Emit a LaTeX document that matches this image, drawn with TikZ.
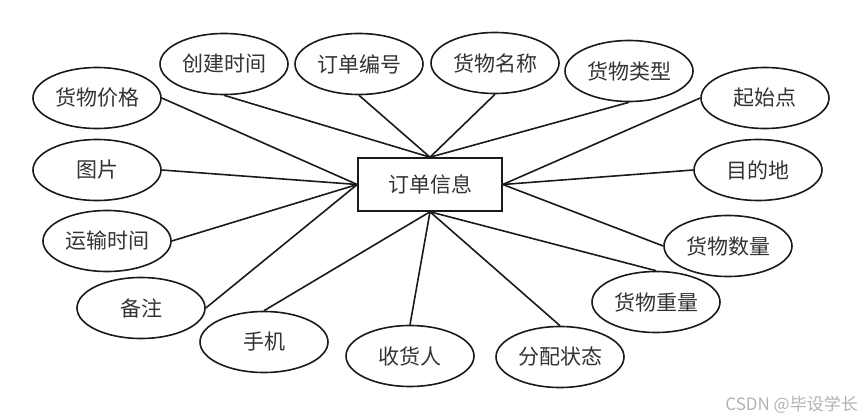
\documentclass[tikz,border=0pt]{standalone}
\usepackage{fontspec}
\setmainfont{Noto Sans CJK SC}
\usetikzlibrary{shapes.geometric}
\definecolor{txt}{HTML}{333333}
\definecolor{ln}{HTML}{1A1A1A}
\tikzset{
  attr/.style={ellipse, draw=ln, line width=1.6pt, minimum width=128pt, minimum height=61pt, inner sep=0pt, font=\fontsize{21}{21}\selectfont, text=txt},
  ent/.style={rectangle, draw=ln, line width=1.6pt, minimum width=144pt, minimum height=53pt, inner sep=0pt, font=\fontsize{21}{21}\selectfont, text=txt},
  link/.style={draw=ln, line width=1.6pt}
}
\begin{document}
\begin{tikzpicture}[x=1pt,y=-1pt]
\useasboundingbox (0,0) rectangle (862,420);
\node[ent] (r) at (430,184.5) {订单信息};
\node[attr] (a1) at (224,64) {创建时间};
\node[attr] (a2) at (359,64) {订单编号};
\node[attr] (a3) at (495,63) {货物名称};
\node[attr] (a4) at (629,71) {货物类型};
\node[attr] (a5) at (765,98) {起始点};
\node[attr] (a6) at (758,170) {目的地};
\node[attr] (a7) at (728,246) {货物数量};
\node[attr] (a8) at (656,302) {货物重量};
\node[attr] (a9) at (560,357) {分配状态};
\node[attr] (a10) at (410,356) {收货人};
\node[attr] (a11) at (264,342) {手机};
\node[attr] (a12) at (141,308) {备注};
\node[attr] (a13) at (107,241) {运输时间};
\node[attr] (a14) at (97,170) {图片};
\node[attr] (a15) at (97,98) {货物价格};
\draw[link] (a1.south) -- (r.north);
\draw[link] (a2.south) -- (r.north);
\draw[link] (a3.south) -- (r.north);
\draw[link] (a4.south) -- (r.north);
\draw[link] (a5.west) -- (r.east);
\draw[link] (a6.west) -- (r.east);
\draw[link] (a7.west) -- (r.east);
\draw[link] (a8.north) -- (r.south);
\draw[link] (a9.north) -- (r.south);
\draw[link] (a10.north) -- (r.south);
\draw[link] (a11.north) -- (r.south);
\draw[link] (a12.east) -- (r.west);
\draw[link] (a13.east) -- (r.west);
\draw[link] (a14.east) -- (r.west);
\draw[link] (a15.east) -- (r.west);
\node[text=black!30, font=\fontsize{17}{17}\selectfont, anchor=east, inner sep=0pt] (wm) at (858,405) {CSDN @毕设学长};
\end{tikzpicture}
\end{document}
